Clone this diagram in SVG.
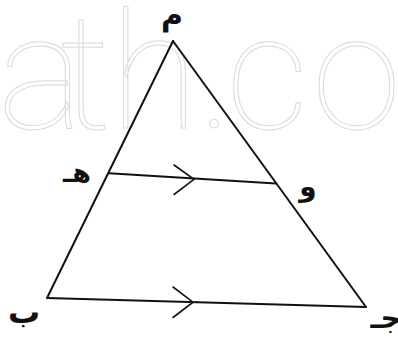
<svg xmlns="http://www.w3.org/2000/svg" width="398" height="339" viewBox="0 0 398 339">
<style>
.wm{font-family:Roboto,Inter,"DejaVu Sans",sans-serif;font-weight:100;font-size:162px;fill:none;stroke:#dadada;stroke-width:1}
.lbl{font-family:"DejaVu Sans",sans-serif;font-weight:bold;fill:#111;text-anchor:middle}
.edge{stroke:#111;stroke-width:2;fill:none;stroke-linecap:round;stroke-linejoin:miter}
.arr{stroke:#111;stroke-width:1.6;fill:none;stroke-linecap:round}
</style>
<rect width="398" height="339" fill="#fff"/>
<g id="watermark">
<text class="wm" x="-2" y="128">a</text>
<text class="wm" x="60" y="128">t</text>
<text class="wm" x="110" y="128">h</text>
<text class="wm" x="198" y="128">.</text>
<text class="wm" x="226" y="128">c</text>
<text class="wm" x="312" y="128">o</text>
</g>
<g id="connectors">
<line class="edge" x1="173" y1="41" x2="47" y2="298"/>
<line class="edge" x1="173" y1="41" x2="366" y2="307"/>
<line class="edge" x1="47" y1="298" x2="366" y2="307"/>
<line class="edge" x1="109" y1="173.3" x2="276" y2="183.5"/>
<polyline class="arr" points="174,165 194,179.3 174,194.5"/>
<polyline class="arr" points="173,287 193,302.2 173,317.5"/>
</g>
<g id="node-A"><text class="lbl" x="172" y="25" font-size="30">م</text></g>
<g id="node-D"><text class="lbl" x="77" y="182" font-size="27">هـ</text></g>
<g id="node-E"><text class="lbl" x="308" y="196" font-size="28">و</text></g>
<g id="node-B"><text class="lbl" x="24" y="323" font-size="32">ب</text></g>
<g id="node-C"><text class="lbl" x="386" y="328" font-size="29">جـ</text></g>
</svg>
